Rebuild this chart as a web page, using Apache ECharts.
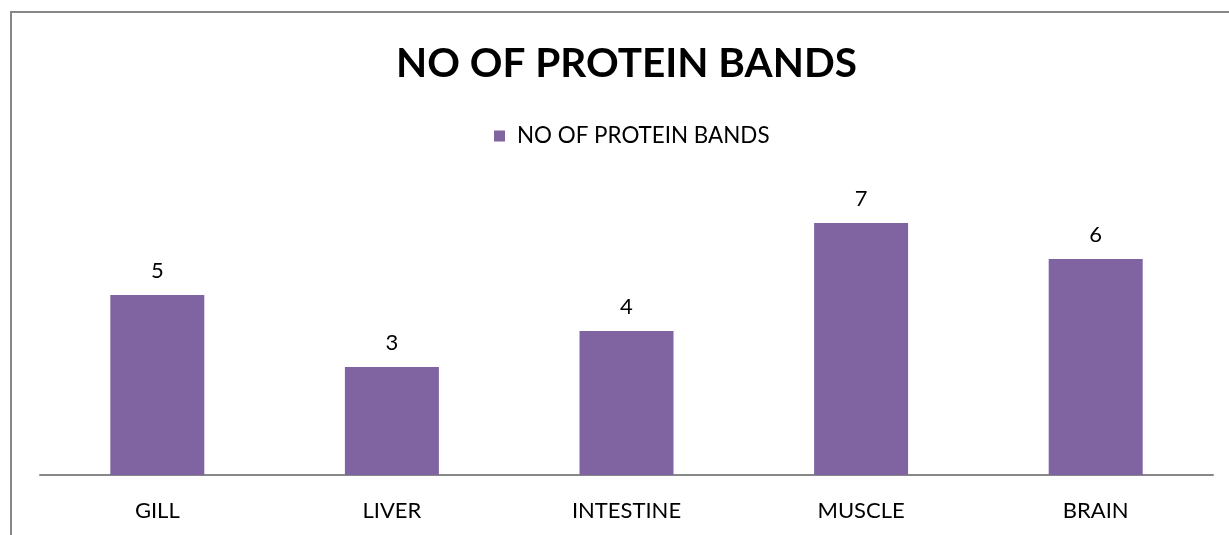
<!DOCTYPE html>
<html><head><meta charset="utf-8">
<style>html,body{margin:0;padding:0;background:#fff}#c{width:1229px;height:535px}</style>
<script src="https://cdn.jsdelivr.net/npm/echarts@6/dist/echarts.min.js"></script>
</head><body><div id="c"></div>
<script>
const categories = ['GILL', 'LIVER', 'INTESTINE', 'MUSCLE', 'BRAIN'];
const bands = [5, 3, 4, 7, 6];
const seriesName = 'NO OF PROTEIN BANDS';
const titleText = 'NO OF PROTEIN BANDS';

const chart = echarts.init(document.getElementById('c'), null, {renderer: 'canvas'});
chart.setOption({
  animation: false,
  backgroundColor: '#fff',
  title: {
    text: titleText, left: 391, top: 38,
    textStyle: {fontFamily: 'Lato', fontWeight: 'bold', fontSize: 40.5, color: '#000'}
  },
  legend: {
    data: [seriesName], top: 120, left: 489,
    icon: 'rect', itemWidth: 11, itemHeight: 11, itemGap: 10,
    textStyle: {fontFamily: 'Lato', fontSize: 22.4, color: '#000', padding: [0, 0, 0, 7]}
  },
  graphic: [
    {type: 'line', shape: {x1: 11, y1: 12, x2: 1229, y2: 12}, style: {stroke: '#878787', lineWidth: 2}},
    {type: 'line', shape: {x1: 11, y1: 11, x2: 11, y2: 535}, style: {stroke: '#878787', lineWidth: 2}}
  ],
  grid: {left: 40, right: 16, top: 187, bottom: 60, containLabel: false},
  xAxis: {
    type: 'category', data: categories,
    axisLine: {lineStyle: {color: '#878787', width: 2}},
    axisTick: {show: false},
    axisLabel: {fontFamily: 'Lato', fontSize: 22, color: '#000', margin: 25}
  },
  yAxis: {type: 'value', min: 0, max: 8, show: false, splitLine: {show: false}},
  series: [{
    name: seriesName, type: 'bar', data: bands, barWidth: 94,
    itemStyle: {color: '#8064A2'},
    label: {show: true, position: 'top', distance: 13, fontFamily: 'Lato', fontSize: 22, color: '#000'}
  }]
});
</script></body></html>
